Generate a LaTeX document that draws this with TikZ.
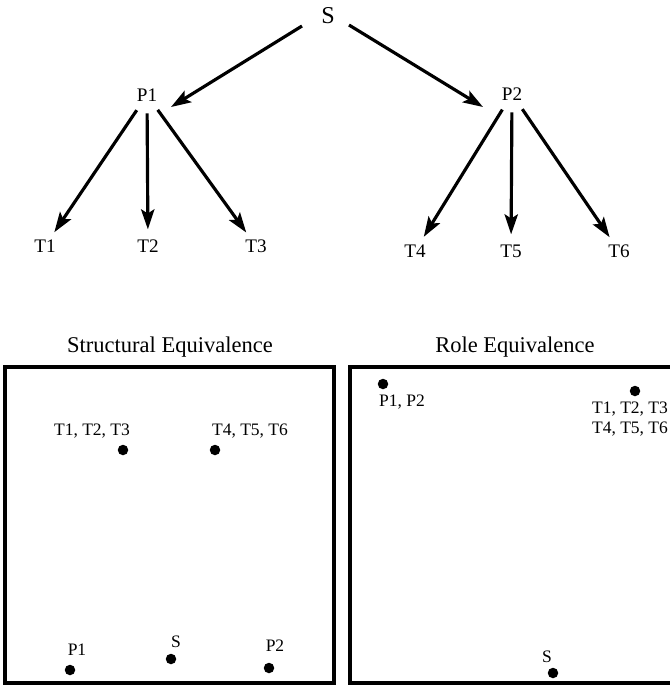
\documentclass[tikz,border=0pt]{standalone}
\usepackage{fontspec}
\setmainfont{Liberation Serif}
\usetikzlibrary{arrows.meta, positioning, calc}

\tikzset{
  arr/.style={line width=1.9pt, -{Stealth[length=12pt,width=8pt,inset=2.5pt]},
    shorten <=11pt, shorten >=10pt},
  lbl/.style={inner sep=0pt, font=\fontsize{11.5}{13}\selectfont},
  blob/.style={circle, fill=black, inner sep=0pt, minimum size=6.3pt},
  ptlbl/.style={inner sep=0pt, font=\fontsize{10.5}{12.5}\selectfont, align=center},
  boxline/.style={line width=1.9pt},
  ttl/.style={inner sep=0pt, font=\fontsize{13.5}{16}\selectfont}
}

\begin{document}
\begin{tikzpicture}[x=0.6pt, y=-0.6pt]
    \useasboundingbox (0,0) rectangle (670,686);

    % Tree - top
    \node[lbl, font=\fontsize{14.5}{16}\selectfont] (S) at (328,16) {S};
    \node[lbl] (P1) at (147,95) {P1};
    \node[lbl] (P2) at (512,94) {P2};
    \node[lbl] (T1) at (45,246) {T1};
    \node[lbl] (T2) at (148,246) {T2};
    \node[lbl] (T3) at (256,246) {T3};
    \node[lbl] (T4) at (415,251) {T4};
    \node[lbl] (T5) at (511,251) {T5};
    \node[lbl] (T6) at (619,251) {T6};
    \draw[arr, shorten <=0pt, shorten >=0pt] ([shift={(-26,10)}]S.center) -- ([shift={(24,12)}]P1.center);
    \draw[arr, shorten <=0pt, shorten >=0pt] ([shift={(21,9)}]S.center) -- ([shift={(-29,13)}]P2.center);
    \foreach \t in {T1,T2,T3}
        \draw[arr] (P1.center) -- (\t.center);
    \foreach \t in {T4,T5,T6}
        \draw[arr] (P2.center) -- (\t.center);

    % Structural Equivalence - left box
    \node[ttl] (ttlS) at (170,347) {Structural Equivalence};
    \draw[boxline] (5,367) rectangle (334,683);
    \node[blob] (sTa) at (123,450) {};
    \node[ptlbl] (sTaL) at (92,431) {T1, T2, T3};
    \node[blob] (sTb) at (215,450) {};
    \node[ptlbl] (sTbL) at (250,431) {T4, T5, T6};
    \node[blob] (sP1) at (70,670) {};
    \node[ptlbl] (sP1L) at (77,650) {P1};
    \node[blob] (sS) at (171,659) {};
    \node[ptlbl] (sSL) at (176,642) {S};
    \node[blob] (sP2) at (269,668) {};
    \node[ptlbl] (sP2L) at (275,646) {P2};

    % Role Equivalence - right box (cut at the edge)
    \node[ttl] (ttlR) at (515,347) {Role Equivalence};
    \draw[boxline] (670,367) -- (350,367) -- (350,683) -- (670,683);
    \node[blob] (rP) at (383,384) {};
    \node[ptlbl] (rPL) at (402,402) {P1, P2};
    \node[blob] (rT) at (635,391) {};
    \node[ptlbl] (rTL) at (630,419) {T1, T2, T3\\T4, T5, T6};
    \node[blob] (rS) at (553,673) {};
    \node[ptlbl] (rSL) at (547,657) {S};
\end{tikzpicture}
\end{document}
